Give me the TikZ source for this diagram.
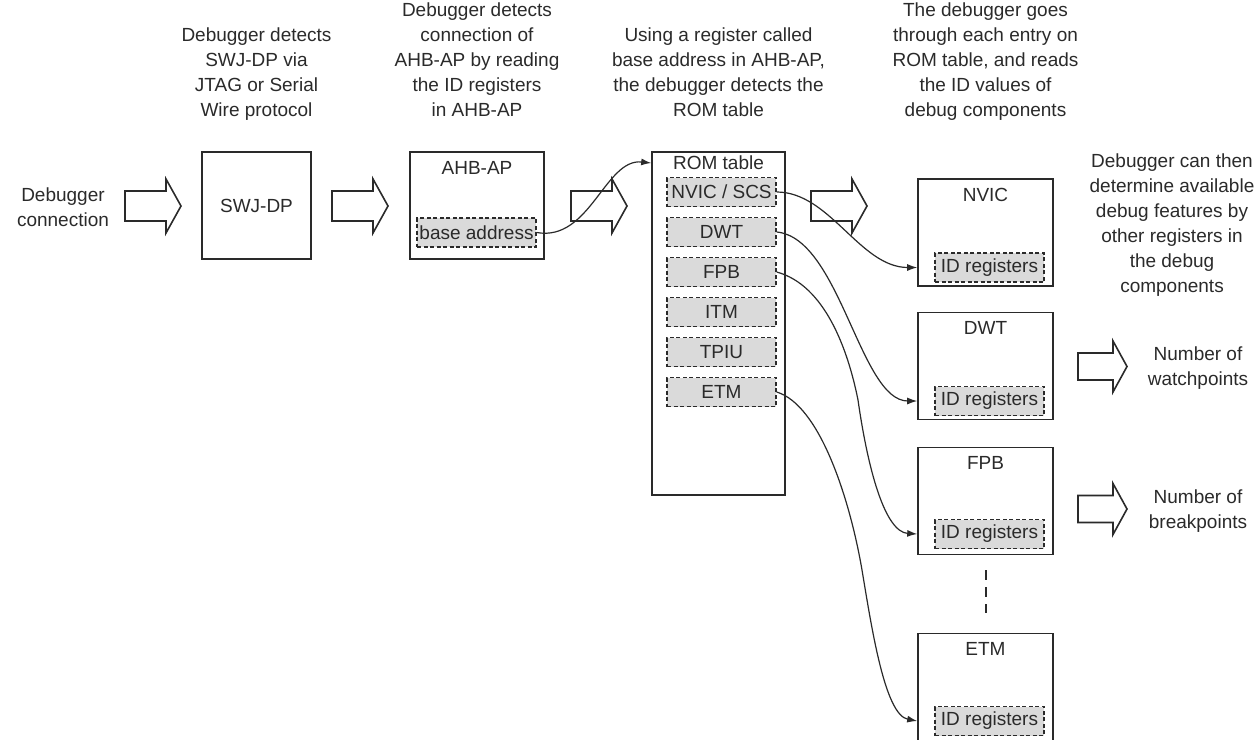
\documentclass[tikz,border=0pt]{standalone}
\usepackage{fontspec}
\setmainfont{Liberation Sans}
\usetikzlibrary{arrows.meta}
\definecolor{ink}{HTML}{2A2A2A}
\definecolor{regfill}{HTML}{DADADA}
\begin{document}
\begin{tikzpicture}[x=1pt,y=-1pt,
  every node/.style={font=\fontsize{19}{25}\selectfont, text=ink, inner sep=0pt},
  box/.style={draw=ink, line width=1.6pt, fill=white},
  reg/.style={draw=ink, line width=1.3pt, dash pattern=on 4pt off 2.5pt, fill=regfill,
              minimum width=109pt, minimum height=29pt},
  note/.style={align=center, text depth=4pt},
  conn/.style={draw=ink, line width=1.2pt, -{Latex[length=10pt,width=7pt]}},
  fat/.style={draw=ink, line width=1.6pt, fill=white, line join=miter},
  fatarrow/.pic={\draw[fat] (0,-15) -- (41,-15) -- (41,-27) -- (56,0) -- (41,27) -- (41,15) -- (0,15) -- cycle;},
  slimarrow/.pic={\draw[fat] (0,-13.5) -- (35,-13.5) -- (35,-25.5) -- (49,0) -- (35,25.5) -- (35,13.5) -- (0,13.5) -- cycle;},
]
\useasboundingbox (0,0) rectangle (1258,739);
\clip (0,0) rectangle (1258,739);

% captions above each stage
\node[note, anchor=south] (t1) at (256.5,121) {Debugger detects\\SWJ-DP via\\JTAG or Serial\\Wire protocol};
\node[note, anchor=south] (t2) at (477,121) {Debugger detects\\connection of\\AHB-AP by reading\\the ID registers\\in AHB-AP};
\node[note, anchor=south] (t3) at (718.5,121) {Using a register called\\base address in AHB-AP,\\the debugger detects the\\ROM table};
\node[note, anchor=south] (t4) at (985.5,121) {The debugger goes\\through each entry on\\ROM table, and reads\\the ID values of\\debug components};
\node[align=center] (t5) at (1172,225) {Debugger can then\\determine available\\debug features by\\other registers in\\the debug\\components};
\node[align=center] (t0) at (63,207) {Debugger\\connection};
\node[align=center] (tw) at (1198,368) {Number of\\watchpoints};
\node[align=center] (tb) at (1198,511) {Number of\\breakpoints};

% block arrows between stages
\pic at (125,206) {fatarrow};
\pic at (332,206) {fatarrow};
\pic at (571,206) {fatarrow};
\pic at (811,206) {fatarrow};
\pic at (1078,366.5) {slimarrow};
\pic at (1078,509) {slimarrow};

% SWJ-DP and AHB-AP
\node[box, minimum width=109pt, minimum height=107pt] (swj) at (256.5,205.5) {SWJ-DP};
\node[box, minimum width=134pt, minimum height=107pt] (ahb) at (477,205.5) {};
\node (ahbT) at (477,168) {AHB-AP};
\node[reg, minimum width=119pt] (base) at (476.5,232.5) {base address};

% ROM table and its entries
\node[box, minimum width=133pt, minimum height=343pt] (rom) at (718.5,323.5) {};
\node (romT) at (718.5,163) {ROM table};
\node[reg] (rNVIC) at (721.5,192) {NVIC / SCS};
\node[reg] (rDWT)  at (721.5,232) {DWT};
\node[reg] (rFPB)  at (721.5,272) {FPB};
\node[reg] (rITM)  at (721.5,312) {ITM};
\node[reg] (rTPIU) at (721.5,352) {TPIU};
\node[reg] (rETM)  at (721.5,392) {ETM};

% debug components
\node[box, minimum width=135pt, minimum height=107pt] (cNVIC) at (985.5,232.5) {};
\node (cNVICt) at (985.5,195) {NVIC};
\node[reg] (iNVIC) at (989.5,267.5) {ID registers};

\node[box, minimum width=135pt, minimum height=107pt] (cDWT) at (985.5,366) {};
\node (cDWTt) at (985.5,328) {DWT};
\node[reg] (iDWT) at (989.5,401) {ID registers};

\node[box, minimum width=135pt, minimum height=107pt] (cFPB) at (985.5,501) {};
\node (cFPBt) at (985.5,463) {FPB};
\node[reg] (iFPB) at (989.5,534) {ID registers};

\node[box, minimum width=135pt, minimum height=107pt] (cETM) at (985.5,687) {};
\node (cETMt) at (985.5,649) {ETM};
\node[reg] (iETM) at (989.5,721) {ID registers};

\draw[ink, line width=2pt, dash pattern=on 10pt off 7pt, shorten <=15pt, shorten >=20pt] (cFPB.south) -- (cETM.north);

% lookups
\draw[conn] (base.east) .. controls (590,242) and (605,158) .. (rom.west |- romT);
\draw[conn] (rNVIC.east) .. controls (830,192) and (860,267.5) .. (cNVIC.west |- iNVIC);
\draw[conn] (rDWT.east) .. controls (840,238) and (860,401) .. (cDWT.west |- iDWT);
\draw[conn] (rFPB.east) .. controls (825,285) and (848,350) .. (858,400)
            .. controls (868,470) and (885,532) .. (cFPB.west |- iFPB);
\draw[conn] (rETM.east) .. controls (820,405) and (850,500) .. (862,570)
            .. controls (872,630) and (885,715) .. (cETM.west |- iETM);
\end{tikzpicture}
\end{document}
